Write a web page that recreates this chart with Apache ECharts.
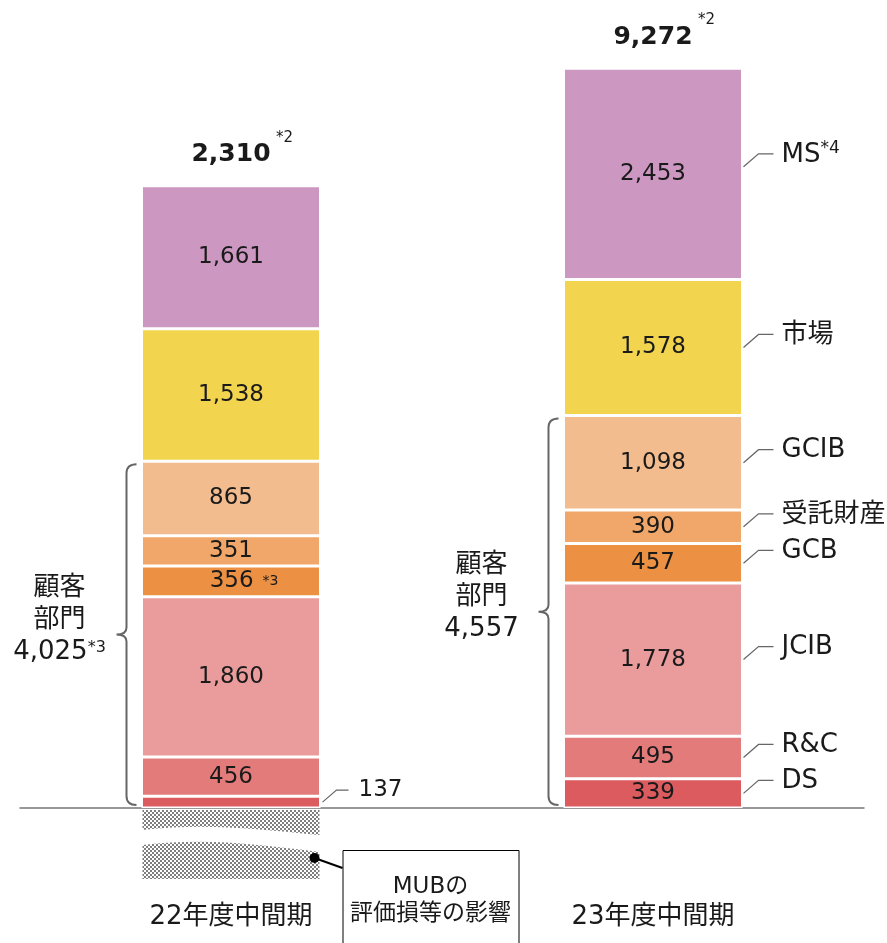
<!DOCTYPE html>
<html>
<head>
<meta charset="utf-8">
<script src="https://cdn.jsdelivr.net/npm/echarts@6/dist/echarts.min.js"></script>
<style>
  html, body { margin: 0; padding: 0; background: #fff; }
  #chart { width: 887px; height: 943px; }
</style>
</head>
<body>
<div id="chart"></div>
<script>
// Periods and business segments (stack order: bottom to top)
const periods = ['22年度中間期', '23年度中間期'];
const segmentNames = ['DS', 'R&C', 'JCIB', 'GCB', '受託財産', 'GCIB', '市場', 'MS'];

// Segment values per period
const dsValues      = [137, 339];
const rcValues      = [456, 495];
const jcibValues    = [1860, 1778];
const gcbValues     = [356, 457];
const trustValues   = [351, 390];
const gcibValues    = [865, 1098];
const marketValues  = [1538, 1578];
const msValues      = [1661, 2453];

// Headline totals and customer-segment subtotals
const netTotals = [2310, 9272];
const customerTotals = [4025, 4557];

// Period that carries the MUB valuation-loss break
const mubPeriods = ['22年度中間期'];

const segmentValues = [dsValues, rcValues, jcibValues, gcbValues, trustValues, gcibValues, marketValues, msValues];
const segmentColors = ['#DC5B5E', '#E37B7B', '#EA9C9C', '#EC9043', '#F0A769', '#F3BC8E', '#F2D44F', '#CC97C1'];

const FONT = "'DejaVu Sans', 'Noto Sans CJK JP', sans-serif";
const TEXT = '#1a1a1a';
const BAR_W = 179;
const BASE_Y = 808;
const PX_PER_UNIT = 0.08615;
const Y_MAX = 9000, Y_MIN = -1500;
const gridTop = BASE_Y - Y_MAX * PX_PER_UNIT;
const gridHeight = (Y_MAX - Y_MIN) * PX_PER_UNIT;

const fmt = v => v.toLocaleString('en-US');

// Checkered hatch fill (2px cells)
const hatch = document.createElement('canvas');
hatch.width = 4; hatch.height = 4;
(function () {
  const c = hatch.getContext('2d');
  c.fillStyle = '#ffffff'; c.fillRect(0, 0, 4, 4);
  c.fillStyle = '#7f7f7f'; c.fillRect(0, 0, 2, 2); c.fillRect(2, 2, 2, 2);
})();

const chart = echarts.init(document.getElementById('chart'), null, { renderer: 'canvas' });

const barSeries = segmentNames.map((name, si) => ({
  name,
  type: 'bar',
  stack: 'total',
  barWidth: BAR_W,
  itemStyle: { color: segmentColors[si], borderColor: '#ffffff', borderWidth: 1.5 },
  label: {
    show: true,
    position: 'inside',
    fontFamily: FONT,
    fontSize: 23,
    color: TEXT,
    formatter: p => fmt(p.value)
  },
  data: segmentValues[si].map((v, pi) => {
    if (name === 'DS' && pi === 0) return { value: v, label: { show: false } };
    if (name === 'GCB' && pi === 0) {
      return {
        value: v,
        label: {
          formatter: p => '{v|' + fmt(p.value) + '}{s|  *3}',
          offset: [13, 0],
          rich: {
            v: { fontFamily: FONT, fontSize: 23, color: TEXT },
            s: { fontFamily: FONT, fontSize: 14, color: TEXT }
          }
        }
      };
    }
    return v;
  })
}));

// Broken hatched bar below the baseline, with a callout box
const mubSeries = {
  type: 'custom',
  clip: false,
  z: 3,
  data: mubPeriods.map(p => [p, 0]),
  encode: { x: 0, y: 1 },
  renderItem: (params, api) => {
    const c = api.coord([api.value(0), 0]);
    const x0 = c[0] - BAR_W / 2 + 1, x1 = c[0] + BAR_W / 2 - 1;
    const y = c[1];
    const upper = `M${x0} ${y + 2} L${x1} ${y + 2} L${x1} ${y + 27} C${x1 - 70} ${y + 20} ${x0 + 60} ${y + 15} ${x0} ${y + 22} Z`;
    const lower = `M${x0} ${y + 37} C${x0 + 60} ${y + 30} ${x1 - 70} ${y + 35} ${x1} ${y + 44} L${x1} ${y + 71} L${x0} ${y + 71} Z`;
    const boxX = x1 + 23, boxY = y + 42;
    return {
      type: 'group',
      children: [
        { type: 'path', shape: { pathData: upper }, style: { fill: { image: hatch, repeat: 'repeat' } } },
        { type: 'path', shape: { pathData: lower }, style: { fill: { image: hatch, repeat: 'repeat' } } },
        { type: 'line', shape: { x1: x1 - 5, y1: y + 50, x2: boxX, y2: y + 60 }, style: { stroke: '#000', lineWidth: 2 } },
        { type: 'circle', shape: { cx: x1 - 5, cy: y + 50, r: 5 }, style: { fill: '#000' } },
        { type: 'rect', shape: { x: boxX + 0.5, y: boxY + 0.5, width: 176, height: 130 }, style: { fill: '#fff', stroke: '#000', lineWidth: 1 } },
        { type: 'text', x: boxX + 88, y: boxY + 37, style: { text: 'MUBの', font: `23px ${FONT}`, fill: TEXT, align: 'center', verticalAlign: 'middle' } },
        { type: 'text', x: boxX + 88, y: boxY + 64, style: { text: '評価損等の影響', font: `23px ${FONT}`, fill: TEXT, align: 'center', verticalAlign: 'middle' } }
      ]
    };
  }
};

// Curly braces grouping the customer segments, with their subtotal
const braceSeries = {
  type: 'custom',
  clip: false,
  z: 3,
  data: periods.map((p, pi) => [p, customerTotals[pi], pi]),
  encode: { x: 0, y: 1 },
  renderItem: (params, api) => {
    const pi = api.value(2);
    const topPt = api.coord([api.value(0), api.value(1)]);
    const basePt = api.coord([api.value(0), 0]);
    const yt = topPt[1] + 3, yb = basePt[1] - 3, ym = (yt + yb) / 2;
    const left = topPt[0] - BAR_W / 2;
    const xe = left - 5, xs = left - 15, xt = left - 25;
    const brace = `M${xe} ${yt} Q${xs} ${yt} ${xs} ${yt + 9} L${xs} ${ym - 7} Q${xs} ${ym} ${xt} ${ym} Q${xs} ${ym} ${xs} ${ym + 7} L${xs} ${yb - 9} Q${xs} ${yb} ${xe} ${yb}`;
    return {
      type: 'group',
      children: [
        { type: 'path', shape: { pathData: brace }, style: { stroke: '#666', lineWidth: 2, fill: null } },
        {
          type: 'text', x: xt - 57, y: ym - 14,
          style: {
            text: '{t|顧客}\n{t|部門}\n{t|' + fmt(customerTotals[pi]) + '}' + (pi === 0 ? '{s|*3}' : ''),
            rich: {
              t: { fontFamily: FONT, fontSize: 26, fill: TEXT, lineHeight: 32 },
              s: { fontFamily: FONT, fontSize: 16, fill: TEXT, lineHeight: 32, padding: [0, 0, 10, 0] }
            },
            align: 'center', verticalAlign: 'middle'
          }
        }
      ]
    };
  }
};

chart.setOption({
  animation: false,
  backgroundColor: '#ffffff',
  grid: { left: 20, right: 23, top: gridTop, height: gridHeight, outerBoundsMode: 'none', containLabel: false },
  xAxis: {
    type: 'category',
    data: periods,
    axisTick: { show: false },
    axisLine: { onZero: true, lineStyle: { color: '#777', width: 1.5 } },
    axisLabel: { show: false }
  },
  yAxis: { type: 'value', min: Y_MIN, max: Y_MAX, show: false },
  series: [...barSeries, mubSeries, braceSeries]
});

// Annotations placed through the chart's own coordinate system
const toPx = (pi, v) => chart.convertToPixel({ gridIndex: 0 }, [pi, v]);
const graphics = [];
const leaderStyle = { stroke: '#666', lineWidth: 1.2, fill: null };

periods.forEach((period, pi) => {
  const stackSum = segmentValues.reduce((s, arr) => s + arr[pi], 0);
  const top = toPx(pi, stackSum);
  const base = toPx(pi, 0);
  // period name under the baseline
  graphics.push({ type: 'text', x: base[0], y: base[1] + 109, style: { text: period, font: `26px ${FONT}`, fill: TEXT, align: 'center', verticalAlign: 'middle' } });
  // headline total
  graphics.push({ type: 'text', x: top[0], y: top[1] - 31, style: { text: fmt(netTotals[pi]), font: `bold 25px ${FONT}`, fill: TEXT, align: 'center', verticalAlign: 'middle' } });
  graphics.push({ type: 'text', x: top[0] + 45, y: top[1] - 48, style: { text: '*2', font: `15px ${FONT}`, fill: TEXT, align: 'left', verticalAlign: 'middle' } });
});

// Segment names beside the latest-period bar
{
  const pi = 1;
  let cum = 0;
  segmentNames.forEach((name, si) => {
    const v = segmentValues[si][pi];
    const mid = toPx(pi, cum + v / 2);
    cum += v;
    const xe = mid[0] + BAR_W / 2 + 1;
    const ly = mid[1] - 13 - (si === segmentNames.length - 1 ? 7 : 0);
    graphics.push({ type: 'polyline', shape: { points: [[xe, ly + 13], [xe + 15, ly], [xe + 30, ly]] }, style: leaderStyle });
    graphics.push({
      type: 'text', x: xe + 38, y: ly + 1,
      style: {
        text: name === 'MS' ? '{n|MS}{s|*4}' : '{n|' + name + '}',
        rich: {
          n: { fontFamily: FONT, fontSize: 26, fill: TEXT },
          s: { fontFamily: FONT, fontSize: 17, fill: TEXT, padding: [0, 0, 12, 0] }
        },
        align: 'left', verticalAlign: 'middle'
      }
    });
  });
}

// Small DS value beside the earlier bar
{
  const pi = 0;
  const v = dsValues[pi];
  const mid = toPx(pi, v / 2);
  const xe = mid[0] + BAR_W / 2 + 2;
  graphics.push({ type: 'polyline', shape: { points: [[xe, mid[1]], [xe + 14, mid[1] - 12], [xe + 26, mid[1] - 12]] }, style: leaderStyle });
  graphics.push({ type: 'text', x: xe + 36, y: mid[1] - 12, style: { text: fmt(v), font: `23px ${FONT}`, fill: TEXT, align: 'left', verticalAlign: 'middle' } });
}

chart.setOption({ graphic: graphics });
</script>
</body>
</html>
